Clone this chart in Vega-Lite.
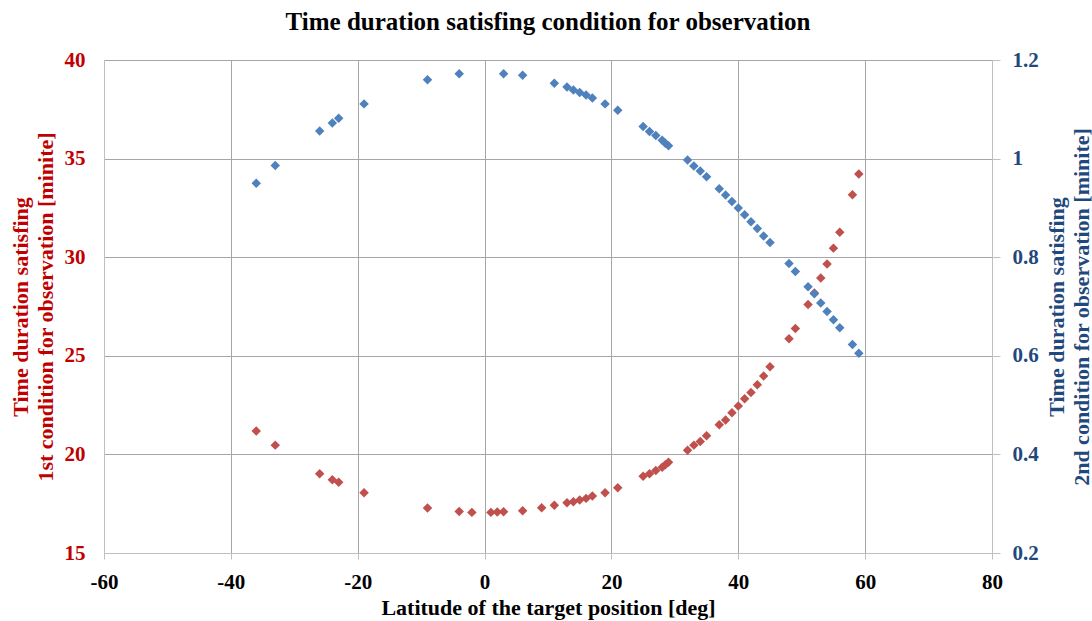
{
  "$schema": "https://vega.github.io/schema/vega-lite/v6.json",
  "width": 888,
  "height": 493,
  "autosize": {"type": "none"},
  "padding": {"left": 104, "top": 60, "right": 100, "bottom": 68},
  "background": "white",
  "title": {
    "text": "Time duration satisfing condition for observation",
    "font": "Liberation Serif",
    "fontSize": 25,
    "fontWeight": "bold",
    "color": "#000000",
    "anchor": "middle",
    "offset": 14
  },
  "config": {
    "view": {"stroke": null},
    "axis": {
      "labelFont": "Liberation Serif",
      "labelFontSize": 21,
      "labelFontWeight": "bold",
      "titleFont": "Liberation Serif",
      "titleFontSize": 22,
      "titleFontWeight": "bold",
      "domainColor": "#BFBFBF",
      "tickColor": "#BFBFBF",
      "gridColor": "#A6A6A6",
      "gridOpacity": 1
    }
  },
  "data": {
    "values": [
      {"lat": -36, "first": 21.19, "second": 0.950},
      {"lat": -33, "first": 20.47, "second": 0.986},
      {"lat": -26, "first": 19.02, "second": 1.056},
      {"lat": -24, "first": 18.72, "second": 1.072},
      {"lat": -23, "first": 18.59, "second": 1.082},
      {"lat": -19, "first": 18.06, "second": 1.111},
      {"lat": -9, "first": 17.28, "second": 1.160},
      {"lat": -4, "first": 17.11, "second": 1.172},
      {"lat": -2, "first": 17.06, "second": null},
      {"lat": 1, "first": 17.06, "second": null},
      {"lat": 2, "first": 17.08, "second": null},
      {"lat": 3, "first": 17.09, "second": 1.172},
      {"lat": 6, "first": 17.14, "second": 1.169},
      {"lat": 9, "first": 17.29, "second": null},
      {"lat": 11, "first": 17.42, "second": 1.153},
      {"lat": 13, "first": 17.55, "second": 1.145},
      {"lat": 14, "first": 17.60, "second": 1.139},
      {"lat": 15, "first": 17.69, "second": 1.134},
      {"lat": 16, "first": 17.77, "second": 1.129},
      {"lat": 17, "first": 17.89, "second": 1.123},
      {"lat": 19, "first": 18.06, "second": 1.111},
      {"lat": 21, "first": 18.31, "second": 1.098},
      {"lat": 25, "first": 18.89, "second": 1.065},
      {"lat": 26, "first": 19.02, "second": 1.055},
      {"lat": 27, "first": 19.18, "second": 1.047},
      {"lat": 28, "first": 19.35, "second": 1.037},
      {"lat": 28.5, "first": 19.47, "second": 1.031},
      {"lat": 29, "first": 19.60, "second": 1.026},
      {"lat": 32, "first": 20.21, "second": 0.997},
      {"lat": 33, "first": 20.47, "second": 0.985},
      {"lat": 34, "first": 20.65, "second": 0.975},
      {"lat": 35, "first": 20.94, "second": 0.963},
      {"lat": 37, "first": 21.50, "second": 0.939},
      {"lat": 38, "first": 21.75, "second": 0.926},
      {"lat": 39, "first": 22.11, "second": 0.913},
      {"lat": 40, "first": 22.46, "second": 0.900},
      {"lat": 41, "first": 22.82, "second": 0.886},
      {"lat": 42, "first": 23.14, "second": 0.872},
      {"lat": 43, "first": 23.53, "second": 0.858},
      {"lat": 44, "first": 23.97, "second": 0.843},
      {"lat": 45, "first": 24.45, "second": 0.830},
      {"lat": 48, "first": 25.87, "second": 0.787},
      {"lat": 49, "first": 26.39, "second": 0.771},
      {"lat": 51, "first": 27.60, "second": 0.740},
      {"lat": 52, "first": 28.19, "second": 0.726},
      {"lat": 53, "first": 28.95, "second": 0.707},
      {"lat": 54, "first": 29.66, "second": 0.690},
      {"lat": 55, "first": 30.46, "second": 0.673},
      {"lat": 56, "first": 31.27, "second": 0.657},
      {"lat": 58, "first": 33.17, "second": 0.623},
      {"lat": 59, "first": 34.22, "second": 0.605}
    ]
  },
  "layer": [
    {
      "mark": {"type": "point", "shape": "diamond", "filled": true, "size": 90, "color": "#C0504D", "opacity": 1},
      "encoding": {
        "x": {
          "field": "lat",
          "type": "quantitative",
          "scale": {"domain": [-60, 80], "nice": false, "zero": false},
          "axis": {
            "values": [-60, -40, -20, 0, 20, 40, 60, 80],
            "labelExpr": "'' + datum.value",
            "labelFlush": false,
            "grid": true,
            "tickSize": 6,
            "labelPadding": 12,
            "labelColor": "#000000",
            "title": "Latitude of the target position [deg]",
            "titleColor": "#000000",
            "titlePadding": 5
          }
        },
        "y": {
          "field": "first",
          "type": "quantitative",
          "scale": {"domain": [15, 40], "nice": false, "zero": false},
          "axis": {
            "orient": "left",
            "values": [15, 20, 25, 30, 35, 40],
            "labelFlush": false,
            "grid": true,
            "ticks": false,
            "labelPadding": 19,
            "labelColor": "#C00000",
            "title": ["Time duration satisfing", "1st  condition for observation [minite]"],
            "titleColor": "#C00000",
            "titleX": -72,
            "titleBaseline": "bottom",
            "titleLineHeight": 25
          }
        }
      }
    },
    {
      "mark": {"type": "point", "shape": "diamond", "filled": true, "size": 90, "color": "#4F81BD", "opacity": 1},
      "encoding": {
        "x": {"field": "lat", "type": "quantitative"},
        "y": {
          "field": "second",
          "type": "quantitative",
          "scale": {"domain": [0.2, 1.2], "nice": false, "zero": false},
          "axis": {
            "orient": "right",
            "values": [0.2, 0.4, 0.6, 0.8, 1.0, 1.2],
            "format": ".1~f",
            "labelFlush": false,
            "grid": false,
            "tickSize": 8,
            "labelPadding": 12,
            "labelColor": "#1F497D",
            "title": ["Time duration satisfing", "2nd condition for observation [minite]"],
            "titleColor": "#1F497D",
            "titleAngle": 270,
            "titleX": 76,
            "titleBaseline": "bottom",
            "titleLineHeight": 25
          }
        }
      }
    }
  ],
  "resolve": {"scale": {"y": "independent"}}
}
